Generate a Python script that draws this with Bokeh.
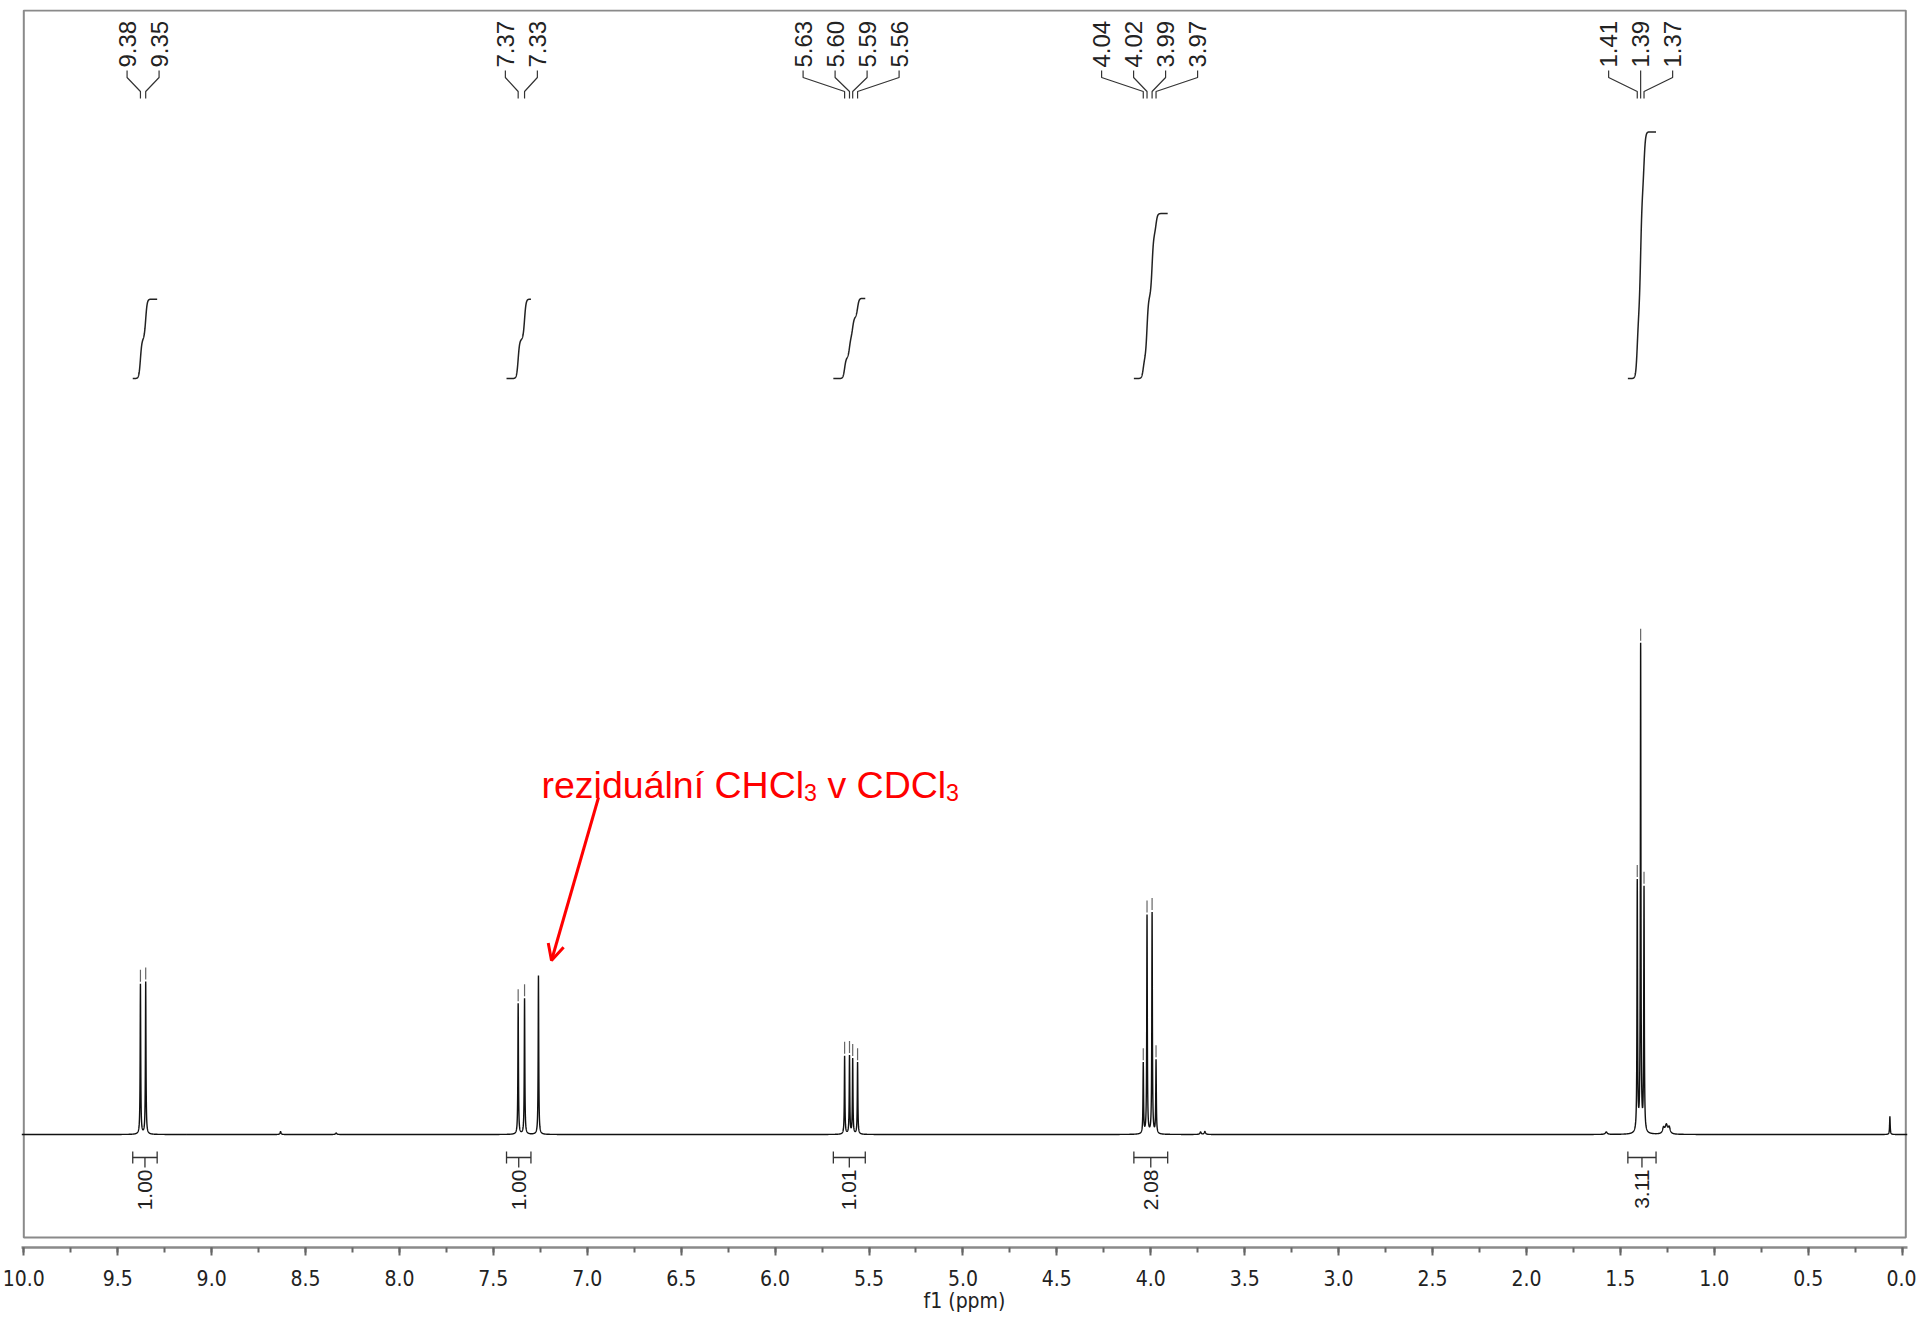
import numpy as np
from math import pi
from bokeh.plotting import figure
from bokeh.models import (Range1d, SingleIntervalTicker, NumeralTickFormatter,
                          Arrow, OpenHead, ColumnDataSource)
from bokeh.core.properties import value
from bokeh.embed import file_html
from bokeh.resources import INLINE

# ---------------- data ----------------
peak_ppm = [9.379, 9.351, 7.368, 7.334, 7.260, 5.630, 5.604, 5.587, 5.561,
            4.040, 4.020, 3.993, 3.972, 1.410, 1.392, 1.374, 0.065]
peak_height = [30.5, 31.0, 26.6, 27.6, 32.3, 15.9, 15.9, 15.3, 14.6,
               14.3, 44.4, 44.9, 14.9, 50.9, 99.0, 49.5, 3.7]
minor_ppm = [8.633, 8.337, 3.735, 3.712, 1.575, 1.270, 1.255, 1.240]
minor_height = [0.6, 0.3, 0.5, 0.6, 0.5, 1.2, 1.8, 1.3]
minor_width = [0.006, 0.008, 0.008, 0.008, 0.012, 0.012, 0.015, 0.012]

mult_ppm = [[9.379, 9.351], [7.368, 7.334], [5.630, 5.604, 5.587, 5.561],
            [4.040, 4.020, 3.993, 3.972], [1.410, 1.392, 1.374]]
mult_labels = [["9.38", "9.35"], ["7.37", "7.33"], ["5.63", "5.60", "5.59", "5.56"],
               ["4.04", "4.02", "3.99", "3.97"], ["1.41", "1.39", "1.37"]]

integral_from = [9.42, 7.43, 5.69, 4.09, 1.46]
integral_to = [9.29, 7.30, 5.52, 3.91, 1.31]
integral_value = [1.00, 1.00, 1.01, 2.08, 3.11]
integral_text = ["1.00", "1.00", "1.01", "2.08", "3.11"]

x_ticks_interval = 0.5
annotation_parts = ["reziduální CHCl", "3", " v CDCl", "3"]
annotation_is_sub = [False, True, False, True]
x_label = "f1 (ppm)"

# ---------------- layout helpers (page == canvas coordinates) ----------------
W, H = 1916, 1316
FRAME_L, FRAME_R, FRAME_T, FRAME_B = 21, 1907, 9, 1247
X10_PAGE, PX_PER_PPM = 23.3, 187.83
BASE_PAGE, S_PX = 1134.0, 4.92
LW = 0.0035          # line width (ppm)
SIG = 0.008          # smoothing of integral curves (ppm)
INT_BASE_PAGE, INT_UNIT_PX = 378.0, 79.3


def X(px):
    return 10.0 - (px - X10_PAGE) / PX_PER_PPM


def PX(ppm):
    return X10_PAGE + (10.0 - ppm) * PX_PER_PPM


def Y(py):
    return (BASE_PAGE - py) / S_PX


p = figure(width=W, height=H,
           x_range=Range1d(X(FRAME_L), X(FRAME_R)),
           y_range=Range1d(Y(FRAME_B), Y(FRAME_T)),
           output_backend="svg", toolbar_location=None, y_axis_location=None,
           min_border_left=FRAME_L, min_border_right=W - FRAME_R,
           min_border_top=FRAME_T, min_border_bottom=H - FRAME_B)
p.outline_line_color = None
p.xgrid.visible = False
p.ygrid.visible = False
p.background_fill_color = "white"
p.border_fill_color = "white"

# frame box
p.quad(left=10.0, right=X(1905.3), top=Y(10), bottom=Y(1237),
       fill_alpha=0, line_color="#8a8a8a", line_width=2)

# spectrum
grid = np.arange(X(FRAME_R), X(FRAME_L), 0.0005)
grid = np.union1d(grid, np.array(peak_ppm + minor_ppm))
spec = np.zeros_like(grid)
for p0, h in zip(peak_ppm, peak_height):
    spec += h / (1 + ((grid - p0) / (LW / 2)) ** 2)
for p0, h, w in zip(minor_ppm, minor_height, minor_width):
    spec += h / (1 + ((grid - p0) / (w / 2)) ** 2)
p.line(grid, spec, line_color="#111111", line_width=1.4)

# peak markers above picked peaks
mx0, my0, my1 = [], [], []
for grp in mult_ppm:
    for p0 in grp:
        top = float(np.interp(p0, grid, spec))
        mx0.append(p0)
        my0.append(top + 2 / S_PX)
        my1.append(top + 14 / S_PX)
p.segment(x0=mx0, y0=my0, x1=mx0, y1=my1, line_color="#666666", line_width=1.2)

# multiplet labels and brackets
LABEL_GAP = 32
lab_x, lab_t, br_xs, br_ys = [], [], [], []
for grp, labs in zip(mult_ppm, mult_labels):
    cx = np.mean([PX(v) for v in grp])
    n = len(grp)
    for i, (p0, t) in enumerate(zip(grp, labs)):
        lx = cx + (i - (n - 1) / 2) * LABEL_GAP
        lab_x.append(X(lx))
        lab_t.append(t)
        br_xs.append([X(lx), X(lx), X(PX(p0)), X(PX(p0))])
        br_ys.append([Y(70), Y(77), Y(91), Y(98)])
p.multi_line(br_xs, br_ys, line_color="#333333", line_width=1.2)
p.text(x=lab_x, y=[Y(67)] * len(lab_x), text=lab_t, angle=pi / 2,
       text_align="left", text_baseline="middle",
       text_font=value("Liberation Sans"), text_font_size="24px", text_color="#222222")

# integral curves
for f, t, v in zip(integral_from, integral_to, integral_value):
    xs = np.linspace(f, t, 300)
    idx = [i for i, p0 in enumerate(peak_ppm) if t < p0 < f]
    Fx = np.zeros_like(xs)
    for i in idx:
        Fx += peak_height[i] * 0.5 * (1 + np.tanh((peak_ppm[i] - xs) / SIG))
    frac = (Fx - Fx[0]) / (Fx[-1] - Fx[0])
    ys = Y(INT_BASE_PAGE) + v * INT_UNIT_PX / S_PX * frac
    p.line(xs, ys, line_color="#222222", line_width=1.5)

# integral bars and values
cxs = []
seg_x0, seg_y0, seg_x1, seg_y1 = [], [], [], []
for f, t in zip(integral_from, integral_to):
    c = X((PX(f) + PX(t)) / 2)
    cxs.append(c)
    seg_x0 += [f, f, t, c]
    seg_x1 += [t, f, t, c]
    seg_y0 += [Y(1157), Y(1151), Y(1151), Y(1157)]
    seg_y1 += [Y(1157), Y(1163), Y(1163), Y(1167)]
p.segment(x0=seg_x0, y0=seg_y0, x1=seg_x1, y1=seg_y1, line_color="#333333", line_width=1.3)
p.text(x=cxs, y=[Y(1169)] * len(cxs), text=integral_text, angle=pi / 2,
       text_align="right", text_baseline="middle",
       text_font=value("Liberation Sans"), text_font_size="21px", text_color="#222222")

# red annotation (pieces placed side by side; subscripts smaller and lowered)
F = 37.5
widths = {"r": 333, "e": 556, "z": 500, "i": 222, "d": 556, "u": 556, "á": 556,
          "l": 222, "n": 556, "í": 278, " ": 278, "C": 722, "H": 722, "D": 722,
          "v": 500, "3": 556}
offs, sizes, yoffs, texts = [], [], [], []
cur = 0.0
for part, sub in zip(annotation_parts, annotation_is_sub):
    fs = F * 0.62 if sub else F
    lead = len(part) - len(part.lstrip(" "))
    cur += lead * widths[" "] / 1000 * fs
    txt = part.lstrip(" ")
    texts.append(txt)
    offs.append(cur)
    sizes.append(f"{fs:.1f}px")
    yoffs.append(F * 0.22 if sub else 0)
    cur += sum(widths.get(ch, 556) for ch in txt) / 1000 * fs
ann = ColumnDataSource(dict(x=[X(541)] * len(texts), y=[Y(784)] * len(texts), text=texts,
                            xo=offs, yo=yoffs, fs=sizes))
p.text(x="x", y="y", text="text", x_offset="xo", y_offset="yo", text_font_size="fs",
       source=ann, text_align="left", text_baseline="alphabetic",
       text_font=value("Liberation Sans"), text_color="#ff0000")
p.add_layout(Arrow(end=OpenHead(size=16, line_color="#ff0000", line_width=3),
                   x_start=X(598), y_start=Y(797), x_end=X(551), y_end=Y(960),
                   line_color="#ff0000", line_width=3))

# x axis
ax = p.xaxis[0]
ax.ticker = SingleIntervalTicker(interval=x_ticks_interval, num_minor_ticks=2)
ax.formatter = NumeralTickFormatter(format="0.0")
ax.axis_line_color = "#8a8a8a"
ax.axis_line_width = 2.5
ax.major_tick_line_color = "#666666"
ax.major_tick_line_width = 2
ax.major_tick_in = 0
ax.major_tick_out = 8
ax.minor_tick_line_color = "#666666"
ax.minor_tick_line_width = 2
ax.minor_tick_in = 0
ax.minor_tick_out = 5
ax.major_label_standoff = 14
ax.major_label_text_font = "DejaVu Sans Condensed, Liberation Sans Narrow, sans-serif"
ax.major_label_text_font_size = "21px"
ax.major_label_text_color = "#222222"
ax.axis_label = x_label
ax.axis_label_standoff = 0
ax.axis_label_text_font = "DejaVu Sans Condensed, Liberation Sans Narrow, sans-serif"
ax.axis_label_text_font_size = "21px"
ax.axis_label_text_font_style = "normal"
ax.axis_label_text_color = "#222222"

open("out.html", "w").write(file_html(p, INLINE))
